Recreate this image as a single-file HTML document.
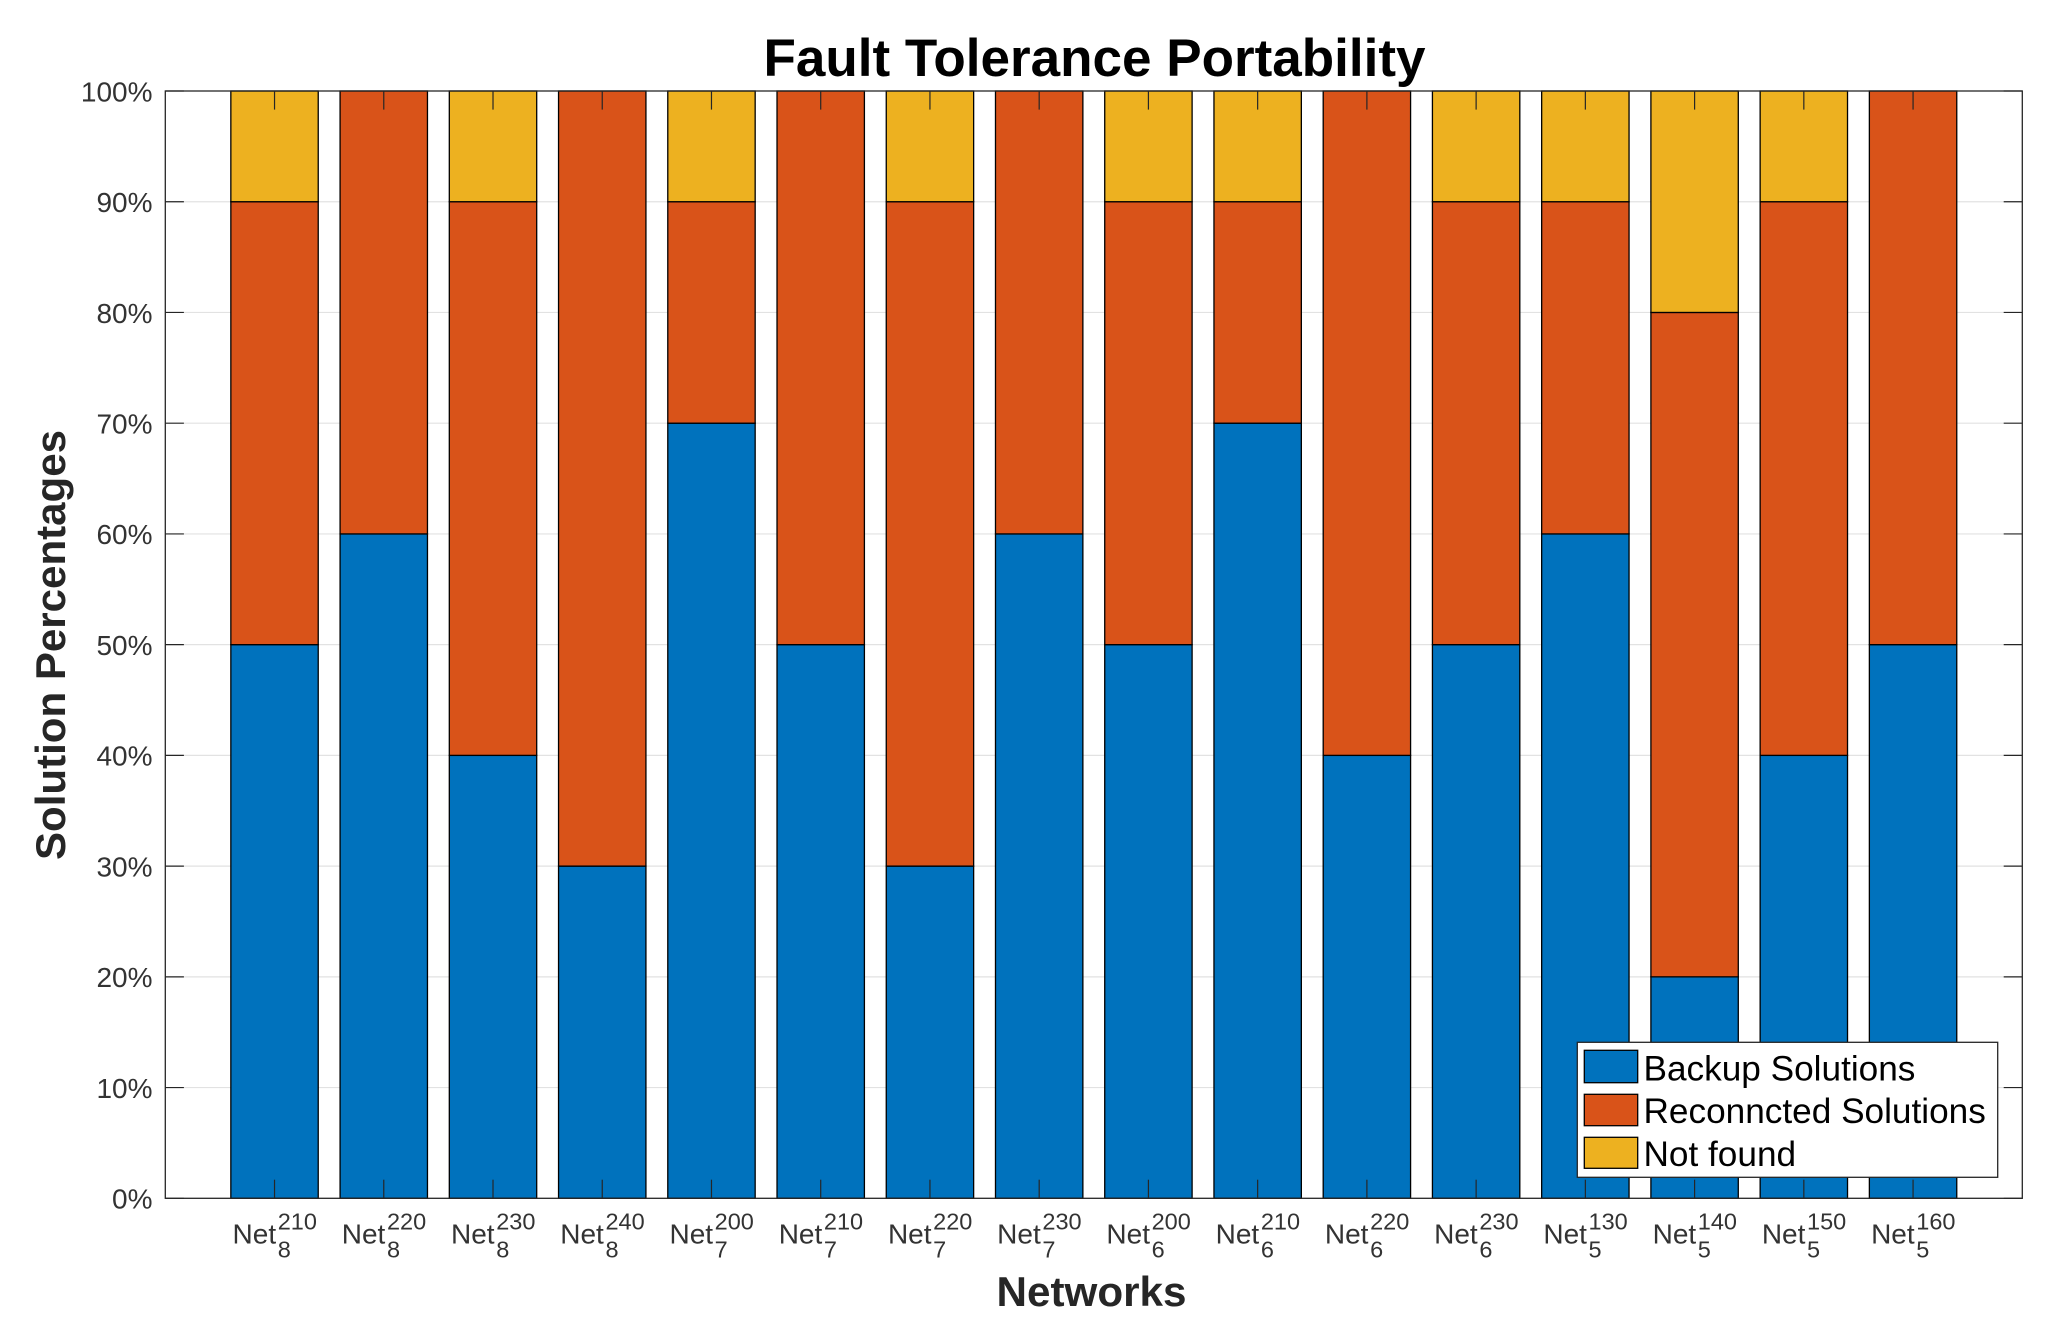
<!DOCTYPE html>
<html>
<head>
<meta charset="utf-8">
<title>Fault Tolerance Portability</title>
<style>
html,body{margin:0;padding:0;background:#fff;width:2048px;height:1339px;overflow:hidden}
svg{display:block}
text{font-family:"Liberation Sans",Arial,sans-serif}
</style>
</head>
<body>
<svg id="chart" xmlns="http://www.w3.org/2000/svg" width="2048" height="1339" viewBox="0 0 2048 1339">
  <rect x="0" y="0" width="2048" height="1339" fill="#fff"/>
  <text x="763.5" y="76" font-size="53" font-weight="bold" fill="#000" textLength="662" lengthAdjust="spacingAndGlyphs">Fault Tolerance Portability</text>
  <text transform="translate(65,860) rotate(-90)" font-size="42" font-weight="bold" fill="#262626" textLength="430" lengthAdjust="spacingAndGlyphs">Solution Percentages</text>
  <text x="996.5" y="1306" font-size="41.5" font-weight="bold" fill="#262626" textLength="190" lengthAdjust="spacingAndGlyphs">Networks</text>
</svg>
<script>
var categorySup = ['210','220','230','240','200','210','220','230','200','210','220','230','130','140','150','160'];
var categorySub = ['8','8','8','8','7','7','7','7','6','6','6','6','5','5','5','5'];
var backupValues = [50,60,40,30,70,50,30,60,50,70,40,50,60,20,40,50];
var reconnectedValues = [40,40,50,70,20,50,60,40,40,20,60,40,30,60,50,50];
var notFoundValues = [10,0,10,0,10,0,10,0,10,10,0,10,10,20,10,0];
var yTickValues = [0,10,20,30,40,50,60,70,80,90,100];
var seriesNames = ['Backup Solutions','Reconncted Solutions','Not found'];
var seriesColors = ['#0072BD','#D95319','#EDB120'];

var svg = document.getElementById('chart');
var NS = 'http://www.w3.org/2000/svg';
var plot = {left:165.3, right:2022.3, top:91, bottom:1198.3};
function xScale(v){ return plot.left + v/(categorySup.length+1)*(plot.right-plot.left); }
function yScale(v){ return plot.bottom - v/100*(plot.bottom-plot.top); }
function make(tag, attrs, text){
  var el = document.createElementNS(NS, tag);
  for (var k in attrs) el.setAttribute(k, attrs[k]);
  if (text !== undefined) el.textContent = text;
  svg.appendChild(el);
  return el;
}
var el, i, j;

/* gridlines */
for (i = 0; i < yTickValues.length; i++) {
  if (yTickValues[i] === 0 || yTickValues[i] === 100) continue;
  el = make('line', {x1:plot.left, x2:plot.right, y1:yScale(yTickValues[i]), y2:yScale(yTickValues[i]), stroke:'#e2e2e2', 'stroke-width':1.2});
  
  
}

/* stacked bars */
var seriesValues = [backupValues, reconnectedValues, notFoundValues];
var segNames = ['bar-backup', 'bar-reconnected', 'bar-not-found'];
var barFrac = 0.8;
for (i = 0; i < categorySup.length; i++) {
  var base = 0;
  for (j = 0; j < seriesValues.length; j++) {
    var val = seriesValues[j][i];
    if (val > 0) {
      el = make('rect', {
        x: xScale(i+1-barFrac/2),
        y: yScale(base+val),
        width: xScale(i+1+barFrac/2)-xScale(i+1-barFrac/2),
        height: yScale(base)-yScale(base+val),
        fill: seriesColors[j], stroke:'#000', 'stroke-width':1.3
      });
      
      
    }
    base += val;
  }
}

/* axes box */
el = make('rect', {x:plot.left, y:plot.top, width:plot.right-plot.left, height:plot.bottom-plot.top, fill:'none', stroke:'#262626', 'stroke-width':1.3});



/* y ticks and labels */
var tickLen = 18.6;
for (i = 0; i < yTickValues.length; i++) {
  var ty = yScale(yTickValues[i]);
  el = make('line', {x1:plot.left, x2:plot.left+tickLen, y1:ty, y2:ty, stroke:'#262626', 'stroke-width':1.2});
  
  
  el = make('line', {x1:plot.right-tickLen, x2:plot.right, y1:ty, y2:ty, stroke:'#262626', 'stroke-width':1.2});
  
  
  el = make('text', {x:152.5, y:ty+10.3, 'text-anchor':'end', 'font-size':28, fill:'#333'}, yTickValues[i] + '%');
  
  
}

/* x ticks and labels */
for (i = 0; i < categorySup.length; i++) {
  var cx = xScale(i+1);
  el = make('line', {x1:cx, x2:cx, y1:plot.bottom, y2:plot.bottom-tickLen, stroke:'#262626', 'stroke-width':1.2});
  
  
  el = make('line', {x1:cx, x2:cx, y1:plot.top, y2:plot.top+tickLen, stroke:'#262626', 'stroke-width':1.2});
  
  
  el = make('text', {x:cx-42, y:1243.3, 'font-size':28, fill:'#333'}, 'Net');
  
  
  el = make('text', {x:cx+3.2, y:1229.3, 'font-size':23.5, fill:'#333'}, categorySup[i]);
  
  
  el = make('text', {x:cx+3.2, y:1257.3, 'font-size':23.5, fill:'#333'}, categorySub[i]);
  
  
}

/* legend */
el = make('rect', {x:1577.3, y:1042.3, width:420.4, height:135, fill:'#fff', stroke:'#262626', 'stroke-width':1.3});


var swatchTop = [1050.3, 1094.3, 1137.3];
var swatchBottom = [1082.7, 1125.7, 1168.3];
var legendBase = [1080.7, 1123, 1166];
for (i = 0; i < seriesNames.length; i++) {
  el = make('rect', {x:1584.3, y:swatchTop[i], width:53.4, height:swatchBottom[i]-swatchTop[i], fill:seriesColors[i], stroke:'#000', 'stroke-width':1.3});
  
  
  el = make('text', {x:1643.5, y:legendBase[i], 'font-size':35.2, fill:'#000'}, seriesNames[i]);
  
  
}
</script>
</body>
</html>
